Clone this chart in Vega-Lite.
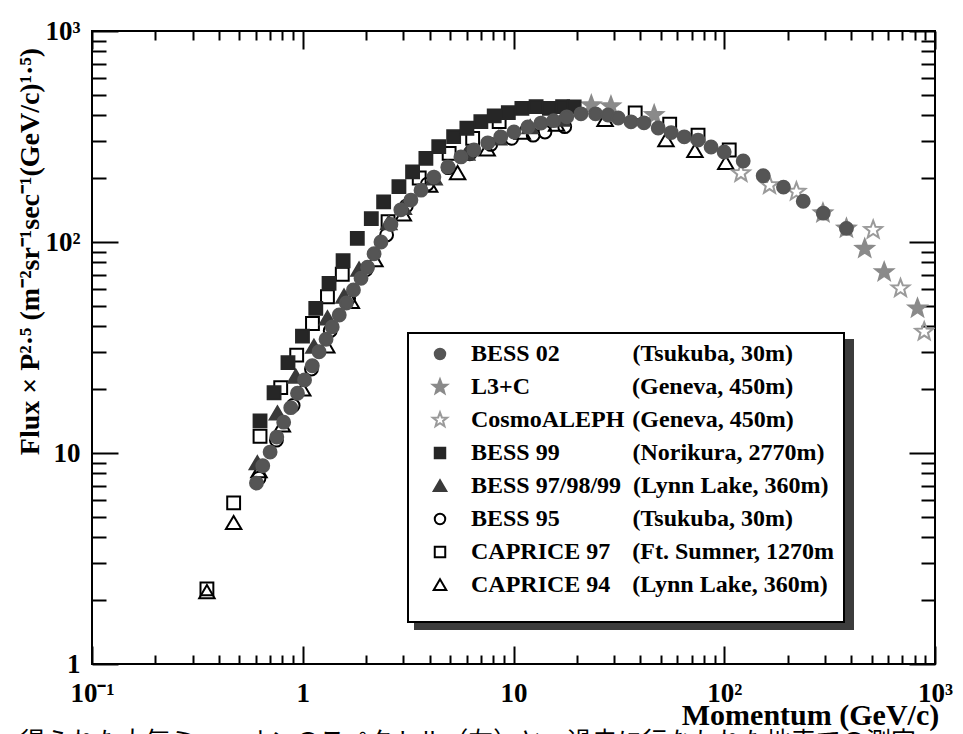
{
  "$schema": "https://vega.github.io/schema/vega-lite/v6.json",
  "width": 843,
  "height": 633,
  "autosize": "none",
  "padding": {"left": 92, "top": 31, "right": 28, "bottom": 70},
  "background": "white",
  "title": {
    "text": "得られた大気ミューオンのスペクトル（左）と、過去に行なわれた地表での測定",
    "orient": "bottom", "anchor": "start", "frame": "group", "offset": 0, "dx": -72,
    "font": "Noto Sans CJK JP", "fontSize": 25, "fontWeight": "normal", "color": "black", "baseline": "top"
  },
  "config": {
    "view": {"stroke": "black", "strokeWidth": 2},
    "font": "Liberation Serif",
    "legend": {"strokeWidth": 2}
  },
  "data": {"values": [
    {"s":"CAPRICE 94","p":0.351,"f":2.19},
    {"s":"CAPRICE 94","p":0.47,"f":4.66},
    {"s":"CAPRICE 94","p":0.62,"f":8.2},
    {"s":"CAPRICE 94","p":0.8,"f":13.5},
    {"s":"CAPRICE 94","p":1.0,"f":20},
    {"s":"CAPRICE 94","p":1.3,"f":32},
    {"s":"CAPRICE 94","p":1.7,"f":52},
    {"s":"CAPRICE 94","p":2.2,"f":82},
    {"s":"CAPRICE 94","p":3.0,"f":135},
    {"s":"CAPRICE 94","p":4.0,"f":185},
    {"s":"CAPRICE 94","p":5.43,"f":212},
    {"s":"CAPRICE 94","p":7.5,"f":275},
    {"s":"CAPRICE 94","p":11,"f":330},
    {"s":"CAPRICE 94","p":16,"f":360},
    {"s":"CAPRICE 94","p":27.2,"f":379},
    {"s":"CAPRICE 94","p":52.9,"f":304},
    {"s":"CAPRICE 94","p":72.6,"f":270},
    {"s":"CAPRICE 94","p":101.7,"f":237},
    {"s":"CAPRICE 97","p":0.351,"f":2.27},
    {"s":"CAPRICE 97","p":0.47,"f":5.8},
    {"s":"CAPRICE 97","p":0.627,"f":12.0},
    {"s":"CAPRICE 97","p":0.786,"f":20.4},
    {"s":"CAPRICE 97","p":0.936,"f":29.1},
    {"s":"CAPRICE 97","p":1.112,"f":41.1},
    {"s":"CAPRICE 97","p":1.31,"f":55.0},
    {"s":"CAPRICE 97","p":1.54,"f":70.3},
    {"s":"CAPRICE 97","p":2.54,"f":125},
    {"s":"CAPRICE 97","p":3.57,"f":201},
    {"s":"CAPRICE 97","p":4.95,"f":263},
    {"s":"CAPRICE 97","p":6.4,"f":310},
    {"s":"CAPRICE 97","p":8.55,"f":372},
    {"s":"CAPRICE 97","p":37.8,"f":409},
    {"s":"CAPRICE 97","p":55.1,"f":362},
    {"s":"CAPRICE 97","p":75.1,"f":321},
    {"s":"CAPRICE 97","p":105.6,"f":273},
    {"s":"BESS 95","p":0.62,"f":7.6},
    {"s":"BESS 95","p":0.75,"f":11.5},
    {"s":"BESS 95","p":0.9,"f":16.8},
    {"s":"BESS 95","p":1.1,"f":25},
    {"s":"BESS 95","p":1.35,"f":38},
    {"s":"BESS 95","p":1.65,"f":54},
    {"s":"BESS 95","p":2.0,"f":74},
    {"s":"BESS 95","p":2.5,"f":108},
    {"s":"BESS 95","p":3.1,"f":148},
    {"s":"BESS 95","p":3.9,"f":188},
    {"s":"BESS 95","p":4.9,"f":225},
    {"s":"BESS 95","p":6.2,"f":262},
    {"s":"BESS 95","p":7.8,"f":290},
    {"s":"BESS 95","p":9.8,"f":310},
    {"s":"BESS 95","p":12.4,"f":321},
    {"s":"BESS 95","p":14.1,"f":332},
    {"s":"BESS 95","p":17.5,"f":352},
    {"s":"BESS 97/98/99","p":0.609,"f":8.94},
    {"s":"BESS 97/98/99","p":0.758,"f":15.4},
    {"s":"BESS 97/98/99","p":0.926,"f":23.0},
    {"s":"BESS 97/98/99","p":1.13,"f":31.9},
    {"s":"BESS 97/98/99","p":1.31,"f":43.5},
    {"s":"BESS 97/98/99","p":1.57,"f":55.1},
    {"s":"BESS 97/98/99","p":1.85,"f":74},
    {"s":"BESS 97/98/99","p":2.56,"f":123},
    {"s":"BESS 97/98/99","p":3.0,"f":145},
    {"s":"BESS 97/98/99","p":4.2,"f":200},
    {"s":"BESS 97/98/99","p":6.0,"f":262},
    {"s":"BESS 97/98/99","p":8.5,"f":310},
    {"s":"BESS 97/98/99","p":12,"f":350},
    {"s":"BESS 97/98/99","p":17,"f":380},
    {"s":"CosmoALEPH","p":120,"f":212},
    {"s":"CosmoALEPH","p":164,"f":186},
    {"s":"CosmoALEPH","p":220,"f":173},
    {"s":"CosmoALEPH","p":509,"f":114},
    {"s":"CosmoALEPH","p":686,"f":60.3},
    {"s":"CosmoALEPH","p":889,"f":37.6},
    {"s":"L3+C","p":23.4,"f":445},
    {"s":"L3+C","p":29.0,"f":440},
    {"s":"L3+C","p":46.5,"f":400},
    {"s":"L3+C","p":294,"f":137},
    {"s":"L3+C","p":380,"f":116},
    {"s":"L3+C","p":464,"f":93},
    {"s":"L3+C","p":574,"f":72},
    {"s":"L3+C","p":826,"f":48.5},
    {"s":"BESS 99","p":0.627,"f":14.2},
    {"s":"BESS 99","p":0.731,"f":19.3},
    {"s":"BESS 99","p":0.851,"f":26.8},
    {"s":"BESS 99","p":0.997,"f":35.8},
    {"s":"BESS 99","p":1.153,"f":48.5},
    {"s":"BESS 99","p":1.333,"f":63.7},
    {"s":"BESS 99","p":1.554,"f":81.5},
    {"s":"BESS 99","p":1.815,"f":104},
    {"s":"BESS 99","p":2.115,"f":129},
    {"s":"BESS 99","p":2.42,"f":155},
    {"s":"BESS 99","p":2.86,"f":183},
    {"s":"BESS 99","p":3.32,"f":215},
    {"s":"BESS 99","p":3.84,"f":249},
    {"s":"BESS 99","p":4.42,"f":283},
    {"s":"BESS 99","p":5.2,"f":316},
    {"s":"BESS 99","p":6.01,"f":346},
    {"s":"BESS 99","p":7.0,"f":372},
    {"s":"BESS 99","p":8.1,"f":396},
    {"s":"BESS 99","p":9.45,"f":410},
    {"s":"BESS 99","p":10.96,"f":430},
    {"s":"BESS 99","p":12.8,"f":438},
    {"s":"BESS 99","p":14.8,"f":430},
    {"s":"BESS 99","p":17.1,"f":438},
    {"s":"BESS 99","p":19.4,"f":437},
    {"s":"BESS 02","p":0.603,"f":7.2},
    {"s":"BESS 02","p":0.646,"f":8.7},
    {"s":"BESS 02","p":0.70,"f":10.1},
    {"s":"BESS 02","p":0.753,"f":11.9},
    {"s":"BESS 02","p":0.812,"f":14.0},
    {"s":"BESS 02","p":0.877,"f":16.4},
    {"s":"BESS 02","p":0.944,"f":19.2},
    {"s":"BESS 02","p":1.02,"f":22.2},
    {"s":"BESS 02","p":1.11,"f":25.9},
    {"s":"BESS 02","p":1.195,"f":30.2},
    {"s":"BESS 02","p":1.29,"f":34.6},
    {"s":"BESS 02","p":1.38,"f":39.6},
    {"s":"BESS 02","p":1.49,"f":45.1},
    {"s":"BESS 02","p":1.61,"f":51.4},
    {"s":"BESS 02","p":1.74,"f":59.3},
    {"s":"BESS 02","p":1.89,"f":67.3},
    {"s":"BESS 02","p":2.03,"f":76.0},
    {"s":"BESS 02","p":2.18,"f":88.0},
    {"s":"BESS 02","p":2.35,"f":100},
    {"s":"BESS 02","p":2.62,"f":121},
    {"s":"BESS 02","p":2.92,"f":142},
    {"s":"BESS 02","p":3.26,"f":158},
    {"s":"BESS 02","p":3.64,"f":176},
    {"s":"BESS 02","p":4.19,"f":203},
    {"s":"BESS 02","p":4.88,"f":227},
    {"s":"BESS 02","p":5.63,"f":253},
    {"s":"BESS 02","p":6.49,"f":273},
    {"s":"BESS 02","p":7.55,"f":295},
    {"s":"BESS 02","p":8.7,"f":315},
    {"s":"BESS 02","p":10.05,"f":332},
    {"s":"BESS 02","p":11.7,"f":351},
    {"s":"BESS 02","p":13.5,"f":366},
    {"s":"BESS 02","p":15.5,"f":376},
    {"s":"BESS 02","p":17.9,"f":392},
    {"s":"BESS 02","p":20.9,"f":405},
    {"s":"BESS 02","p":24.5,"f":405},
    {"s":"BESS 02","p":28.1,"f":400},
    {"s":"BESS 02","p":31.4,"f":387},
    {"s":"BESS 02","p":36.1,"f":371},
    {"s":"BESS 02","p":41.6,"f":367},
    {"s":"BESS 02","p":48.6,"f":347},
    {"s":"BESS 02","p":56,"f":330},
    {"s":"BESS 02","p":64.6,"f":315},
    {"s":"BESS 02","p":75.1,"f":304},
    {"s":"BESS 02","p":86.6,"f":282},
    {"s":"BESS 02","p":99.9,"f":267},
    {"s":"BESS 02","p":123,"f":242},
    {"s":"BESS 02","p":153,"f":206},
    {"s":"BESS 02","p":191,"f":182},
    {"s":"BESS 02","p":237,"f":156},
    {"s":"BESS 02","p":295,"f":137},
    {"s":"BESS 02","p":380,"f":116}
  ]},
  "layer": [
    {
      "mark": {"type": "point", "opacity": 0},
      "encoding": {
        "x": {
          "field": "p", "type": "quantitative",
          "scale": {"type": "log", "domain": [0.1, 1000], "nice": false},
          "axis": {
            "orient": "top",
            "values": [0.1,0.2,0.3,0.4,0.5,0.6,0.7,0.8,0.9,1,2,3,4,5,6,7,8,9,10,20,30,40,50,60,70,80,90,100,200,300,400,500,600,700,800,900,1000],
            "domain": false, "grid": false, "labels": false, "title": null,
            "tickColor": "black", "tickWidth": 2,
            "tickSize": {"condition": {"test": "abs(log(datum.value)/LN10 - round(log(datum.value)/LN10)) < 0.001", "value": -18}, "value": -9}
          }
        },
        "y": {
          "field": "f", "type": "quantitative",
          "scale": {"type": "log", "domain": [1, 1000], "nice": false},
          "axis": {
            "orient": "right",
            "values": [1,2,3,4,5,6,7,8,9,10,20,30,40,50,60,70,80,90,100,200,300,400,500,600,700,800,900,1000],
            "domain": false, "grid": false, "labels": false, "title": null,
            "tickColor": "black", "tickWidth": 2,
            "tickSize": {"condition": {"test": "abs(log(datum.value)/LN10 - round(log(datum.value)/LN10)) < 0.001", "value": -26}, "value": -14}
          }
        },
        "strokeDash": {
          "field": "s", "type": "nominal",
          "scale": {
            "domain": ["CAPRICE 94","CAPRICE 97","BESS 95","BESS 97/98/99","BESS 99","CosmoALEPH","L3+C","BESS 02"]
          },
          "legend": {
            "orient": "none", "legendX": 323, "legendY": 309,
            "title": " ", "titleOrient": "bottom", "titleFontSize": 10, "titlePadding": 6, "titleColor": "#3c3c3c",
            "padding": 9, "symbolOffset": 11, "labelOffset": 385, "rowPadding": 9,
            "strokeColor": "#3c3c3c", "fillColor": "#3c3c3c",
            "symbolSize": 110, "symbolStrokeWidth": 2, "symbolFillColor": "#3c3c3c", "symbolStrokeColor": "#3c3c3c",
            "labelFont": "Liberation Serif", "labelFontWeight": "bold", "labelFontSize": 24, "labelColor": "#3c3c3c", "labelLimit": 0,
            "labelExpr": "'\u00a0'"
          }
        }
      }
    },
    {
      "mark": {"type": "point", "opacity": 1, "strokeWidth": 2, "size": 165, "clip": true},
      "encoding": {
        "x": {
          "field": "p", "type": "quantitative",
          "axis": {
            "orient": "bottom",
            "values": [0.1,0.2,0.3,0.4,0.5,0.6,0.7,0.8,0.9,1,2,3,4,5,6,7,8,9,10,20,30,40,50,60,70,80,90,100,200,300,400,500,600,700,800,900,1000],
            "domain": false, "grid": false,
            "tickColor": "black", "tickWidth": 2,
            "tickSize": {"condition": {"test": "abs(log(datum.value)/LN10 - round(log(datum.value)/LN10)) < 0.001", "value": -18}, "value": -9},
            "labelExpr": "datum.value == 0.1 ? '10⁻¹' : datum.value == 1 ? '1' : datum.value == 10 ? '10' : datum.value == 100 ? '10²' : datum.value == 1000 ? '10³' : ''",
            "labelFont": "Liberation Serif", "labelFontWeight": "bold", "labelFontSize": 27, "labelColor": "black",
            "labelPadding": 34, "labelBaseline": "top", "labelFlush": false, "labelOverlap": false,
            "title": "Momentum (GeV/c)",
            "titleFont": "Liberation Serif", "titleFontWeight": "bold", "titleFontSize": 30, "titleColor": "black",
            "titleX": 718, "titleY": 60, "titleAlign": "center", "titleBaseline": "alphabetic"
          }
        },
        "y": {
          "field": "f", "type": "quantitative",
          "axis": {
            "orient": "left",
            "values": [1,2,3,4,5,6,7,8,9,10,20,30,40,50,60,70,80,90,100,200,300,400,500,600,700,800,900,1000],
            "domain": false, "grid": false,
            "tickColor": "black", "tickWidth": 2,
            "tickSize": {"condition": {"test": "abs(log(datum.value)/LN10 - round(log(datum.value)/LN10)) < 0.001", "value": -26}, "value": -14},
            "labelExpr": "datum.value == 1 ? '1' : datum.value == 10 ? '10' : datum.value == 100 ? '10²' : datum.value == 1000 ? '10³' : ''",
            "labelFont": "Liberation Serif", "labelFontWeight": "bold", "labelFontSize": 27, "labelColor": "black",
            "labelPadding": 38, "labelFlush": false, "labelOverlap": false,
            "title": "Flux × P²·⁵ (m⁻²sr⁻¹sec⁻¹(GeV/c)¹·⁵)",
            "titleFont": "Liberation Serif", "titleFontWeight": "bold", "titleFontSize": 28, "titleColor": "black",
            "titleAngle": -90, "titleX": -62, "titleY": 220, "titleAlign": "center", "titleBaseline": "middle"
          }
        },
        "shape": {
          "field": "s", "type": "nominal",
          "scale": {
            "domain": ["BESS 02","L3+C","CosmoALEPH","BESS 99","BESS 97/98/99","BESS 95","CAPRICE 97","CAPRICE 94"],
            "range": ["circle",
              "M0,-1.45L0.358,-0.493L1.379,-0.448L0.579,0.189L0.853,1.173L0,0.609L-0.853,1.173L-0.579,0.189L-1.379,-0.448L-0.358,-0.493Z",
              "M0,-1.45L0.358,-0.493L1.379,-0.448L0.579,0.189L0.853,1.173L0,0.609L-0.853,1.173L-0.579,0.189L-1.379,-0.448L-0.358,-0.493Z",
              "square",
              "M0,-1.1L1.2,0.95L-1.2,0.95Z",
              "circle", "square",
              "M0,-1.1L1.2,0.95L-1.2,0.95Z"]
          },
          "legend": {
            "orient": "none", "legendX": 316, "legendY": 302,
            "title": " ", "titleOrient": "bottom", "titleFontSize": 10, "titlePadding": 6,
            "padding": 9, "symbolOffset": 11, "labelOffset": 19, "rowPadding": 9,
            "strokeColor": "black", "fillColor": "white",
            "symbolSize": 110, "symbolStrokeWidth": 2,
            "labelFont": "Liberation Serif", "labelFontWeight": "bold", "labelFontSize": 24, "labelColor": "black", "labelLimit": 0,
            "labelExpr": "datum.label == 'BESS 02' ? 'BESS 02\u2003\u2003\u2002\u2004\u2009(Tsukuba, 30m)' : datum.label == 'L3+C' ? 'L3+C\u2003\u2003\u2003\u2003\u2005(Geneva, 450m)' : datum.label == 'CosmoALEPH' ? 'CosmoALEPH\u2004(Geneva, 450m)' : datum.label == 'BESS 99' ? 'BESS 99\u2003\u2003\u2002\u2004\u2009(Norikura, 2770m)' : datum.label == 'BESS 97/98/99' ? 'BESS 97/98/99\u2002(Lynn Lake, 360m)' : datum.label == 'BESS 95' ? 'BESS 95\u2003\u2003\u2002\u2004\u2009(Tsukuba, 30m)' : datum.label == 'CAPRICE 97' ? 'CAPRICE 97\u2002\u2005\u2006(Ft. Sumner, 1270m' : 'CAPRICE 94\u2002\u2005\u2006(Lynn Lake, 360m)'"
          }
        },
        "fill": {
          "field": "s", "type": "nominal",
          "scale": {
            "domain": ["BESS 02","L3+C","CosmoALEPH","BESS 99","BESS 97/98/99","BESS 95","CAPRICE 97","CAPRICE 94"],
            "range": ["#555555","#8a8a8a","transparent","#262626","#3a3a3a","transparent","transparent","transparent"]
          }
        },
        "stroke": {
          "field": "s", "type": "nominal",
          "scale": {
            "domain": ["BESS 02","L3+C","CosmoALEPH","BESS 99","BESS 97/98/99","BESS 95","CAPRICE 97","CAPRICE 94"],
            "range": ["#555555","#8a8a8a","#9a9a9a","#262626","#3a3a3a","#000000","#000000","#000000"]
          }
        }
      }
    }
  ],
  "resolve": {"axis": {"x": "independent", "y": "independent"}}
}
